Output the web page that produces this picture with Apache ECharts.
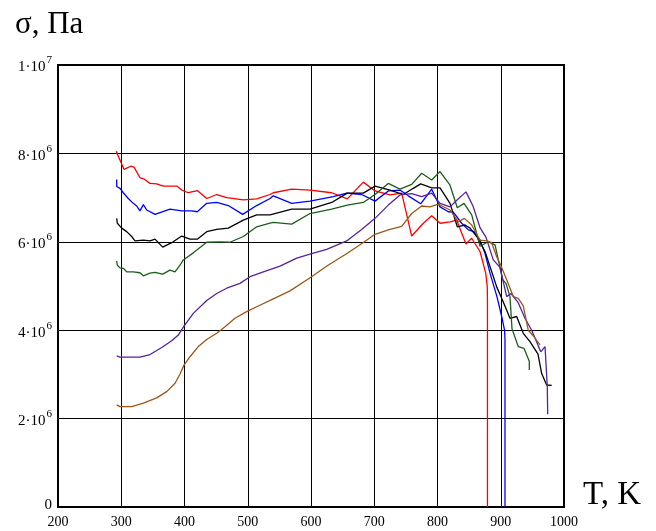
<!DOCTYPE html>
<html>
<head>
<meta charset="utf-8">
<script src="https://cdn.jsdelivr.net/npm/echarts@6/dist/echarts.min.js"></script>
<style>
  html, body { margin: 0; padding: 0; background: #fff; }
  #chart { width: 656px; height: 531px; }
</style>
</head>
<body>
<div id="chart"></div>
<script>
// Temperature T (K) and stress σ (in units of 10^6 Pa) for six measurement runs
const redT = [292, 294, 304.3, 315, 320.2, 329.6, 336, 345.5, 356, 366.5, 387.7, 395.6, 406, 420.2, 435.1, 450.9, 466.7, 493, 514.1, 535.2, 540.4, 569.5, 598.4, 632.7, 657.4, 682.7, 701.2, 724.9, 743.4, 759.2, 777.6, 790.8, 804, 819.8, 830.3, 845, 854, 867.2, 876.2, 878.7, 879, 879];
const redS = [8.05, 7.98, 7.64, 7.71, 7.69, 7.45, 7.42, 7.32, 7.31, 7.26, 7.26, 7.17, 7.11, 7.16, 6.98, 7.07, 7.00, 6.95, 6.97, 7.07, 7.11, 7.19, 7.17, 7.11, 6.97, 7.35, 7.15, 7.06, 7.10, 6.13, 6.42, 6.59, 6.42, 6.45, 6.49, 5.95, 6.08, 5.78, 5.29, 4.98, 4.6, 0];

const blueT = [292.8, 292.8, 298, 303.2, 305.9, 311.1, 319, 324.4, 329.6, 334.9, 340.2, 353.4, 377.1, 395.6, 411.4, 420.2, 435.1, 450.9, 469.2, 492, 514.1, 535.2, 540.4, 569.5, 598.4, 635.3, 656.4, 680.1, 701.2, 722.2, 740.7, 753.8, 773.4, 790.8, 804, 817.1, 825, 838.2, 848.7, 857.7, 867.2, 875.1, 883, 894, 901.5, 906, 906.7, 906.7];
const blueS = [7.41, 7.25, 7.21, 7.11, 7.12, 6.98, 6.87, 6.81, 6.70, 6.84, 6.72, 6.62, 6.74, 6.70, 6.70, 6.68, 6.87, 6.89, 6.82, 6.62, 6.82, 6.98, 7.04, 6.87, 6.92, 7.02, 7.10, 7.07, 6.92, 7.15, 7.17, 7.04, 6.86, 7.19, 6.79, 6.68, 6.67, 6.42, 6.27, 6.23, 6.04, 5.74, 5.29, 4.76, 4.31, 4.00, 3.8, 0];

const blackT = [292.8, 293.8, 300.7, 308.6, 316.5, 321.7, 334.9, 345.5, 353.4, 365.5, 379.8, 395.6, 408.7, 420.2, 435.1, 450.9, 469.2, 493, 514.1, 535.2, 569.5, 598.4, 632.7, 657.4, 682.7, 701.2, 724.9, 745.9, 761.7, 773.4, 790.8, 804, 819.8, 831.3, 843.5, 851.4, 862, 875.1, 883, 893.6, 904, 914.6, 925.2, 935.6, 946.2, 958.9, 964.7, 972.6, 980.5];
const blackS = [6.53, 6.42, 6.31, 6.23, 6.12, 6.02, 6.04, 6.02, 6.06, 5.88, 5.98, 6.13, 6.06, 6.06, 6.23, 6.28, 6.31, 6.49, 6.61, 6.61, 6.74, 6.74, 6.89, 7.10, 7.10, 7.26, 7.17, 7.07, 7.21, 7.31, 7.22, 7.22, 6.87, 6.34, 6.38, 6.31, 6.12, 5.78, 5.44, 4.98, 4.64, 4.27, 4.31, 3.93, 3.74, 3.46, 3.02, 2.76, 2.75];

const greenT = [292.8, 293.8, 298, 303.2, 308.6, 319, 329.6, 334.9, 345.5, 353.4, 365.5, 377.1, 385, 392.9, 398.1, 413.9, 435.1, 456.1, 471.9, 493, 514.1, 535.2, 540.4, 569.5, 598.4, 632.7, 657.4, 682.7, 701.2, 722.2, 740.7, 759.2, 775, 790.8, 804, 819.8, 831.3, 841.9, 854.1, 867.2, 880.3, 891, 896.1, 903.1, 908.3, 914.6, 917.8, 927.7, 936.7, 945.1, 945.1];
const greenS = [5.57, 5.47, 5.41, 5.40, 5.32, 5.32, 5.30, 5.23, 5.29, 5.31, 5.27, 5.36, 5.32, 5.47, 5.59, 5.75, 5.99, 6.00, 5.99, 6.12, 6.34, 6.42, 6.44, 6.40, 6.64, 6.74, 6.83, 6.89, 7.07, 7.32, 7.19, 7.30, 7.55, 7.40, 7.59, 7.28, 6.77, 6.87, 6.61, 5.90, 6.00, 5.93, 5.59, 5.14, 5.06, 4.76, 4.03, 3.63, 3.59, 3.30, 3.10];

const purpleT = [292.8, 298, 329.6, 345.5, 364, 379.8, 390.2, 399.2, 413.9, 435.1, 450.9, 466.7, 487.7, 503.6, 524.6, 551, 577.4, 598.4, 624.8, 656.4, 680.1, 701.2, 722.2, 740.7, 759.2, 775, 790.8, 804, 819.8, 831.3, 845, 856.1, 867.2, 876.7, 888.2, 898.8, 909.4, 916.2, 927.3, 938.3, 948.9, 957.8, 963.2, 970, 973.6, 974.2];
const purpleS = [3.42, 3.39, 3.39, 3.45, 3.61, 3.76, 3.89, 4.09, 4.38, 4.67, 4.83, 4.95, 5.06, 5.21, 5.32, 5.45, 5.63, 5.72, 5.83, 6.02, 6.28, 6.53, 6.83, 7.06, 7.09, 7.02, 7.10, 6.87, 6.79, 6.95, 7.13, 6.81, 6.32, 6.10, 5.59, 5.42, 4.76, 4.83, 4.63, 4.27, 4.00, 3.70, 3.51, 3.63, 2.72, 2.10];

const brownT = [292.8, 298, 316.5, 334.9, 356, 371.9, 385, 392.9, 399.2, 408.7, 421.8, 435.1, 450.9, 464, 479.8, 498.3, 514.1, 540.4, 566.8, 596.8, 626.9, 657.4, 682.2, 701.2, 722.2, 743.4, 759.2, 775, 788.1, 801.3, 819.8, 832.9, 842.4, 854.1, 867.2, 877.8, 885.7, 893.6, 898.8, 909.4, 919.8, 927.7, 935.6, 943.5, 951.5, 962];
const brownS = [2.31, 2.27, 2.27, 2.35, 2.47, 2.61, 2.80, 3.01, 3.21, 3.40, 3.63, 3.79, 3.93, 4.08, 4.27, 4.42, 4.53, 4.71, 4.89, 5.17, 5.47, 5.74, 5.98, 6.17, 6.27, 6.35, 6.64, 6.81, 6.79, 6.85, 6.72, 6.45, 6.53, 6.38, 6.04, 6.02, 5.98, 5.66, 5.51, 5.14, 4.76, 4.72, 4.55, 4.00, 3.87, 3.67];

// Axis tick values
const xTicks = [200, 300, 400, 500, 600, 700, 800, 900, 1000];
const yTicks = [0, 2, 4, 6, 8, 10]; // ×10^6 Pa

const runs = [
  { T: redT, S: redS, color: '#ff0000' },
  { T: blueT, S: blueS, color: '#0000ff' },
  { T: blackT, S: blackS, color: '#000000' },
  { T: greenT, S: greenS, color: '#1b5e1b' },
  { T: purpleT, S: purpleS, color: '#5522a0' },
  { T: brownT, S: brownS, color: '#9c5718' }
];

const serif = '"Liberation Serif", "DejaVu Serif", serif';

function yLabel(v) {
  if (v === 0) return '{z|0}';
  if (v === 10) return '{b|1·10}{s|7}';
  return '{b|' + v + '·10}{s|6}';
}

const chart = echarts.init(document.getElementById('chart'));
chart.setOption({
  animation: false,
  backgroundColor: '#ffffff',
  title: [
    { text: 'σ, Па', left: 10, top: 4, textStyle: { fontFamily: serif, fontSize: 31, fontWeight: 'normal', color: '#000' } },
    { text: 'T, K', left: 578, top: 474, textStyle: { fontFamily: serif, fontSize: 33, fontWeight: 'normal', color: '#000' } }
  ],
  grid: { left: 58, right: 92, top: 65, bottom: 24, show: true, borderColor: '#000', borderWidth: 2, backgroundColor: 'transparent' },
  xAxis: {
    type: 'value', min: xTicks[0], max: xTicks[xTicks.length - 1], interval: 100,
    axisLine: { show: true, lineStyle: { color: '#000', width: 2 } },
    axisTick: { show: false },
    splitLine: { show: true, lineStyle: { color: '#000', width: 1 } },
    axisLabel: { fontFamily: serif, fontSize: 14, color: '#000', margin: 8, formatter: v => String(v) }
  },
  yAxis: {
    type: 'value', min: yTicks[0], max: yTicks[yTicks.length - 1], interval: 2,
    axisLine: { show: true, lineStyle: { color: '#000', width: 2 } },
    axisTick: { show: false },
    splitLine: { show: true, lineStyle: { color: '#000', width: 1 } },
    axisLabel: {
      margin: 6,
      formatter: yLabel,
      rich: {
        b: { fontFamily: serif, fontSize: 15, color: '#000', lineHeight: 20, verticalAlign: 'bottom' },
        s: { fontFamily: serif, fontSize: 11, color: '#000', lineHeight: 20, verticalAlign: 'top', padding: [0, 0, 7, 1] },
        z: { fontFamily: serif, fontSize: 15, color: '#000', padding: [0, 0, 4, 0] }
      }
    }
  },
  series: runs.map(r => ({
    type: 'line',
    data: r.T.map((t, i) => [t, r.S[i]]),
    showSymbol: false,
    symbol: 'none',
    lineStyle: { color: r.color, width: 1.3 },
    z: 3
  }))
});
</script>
</body>
</html>
